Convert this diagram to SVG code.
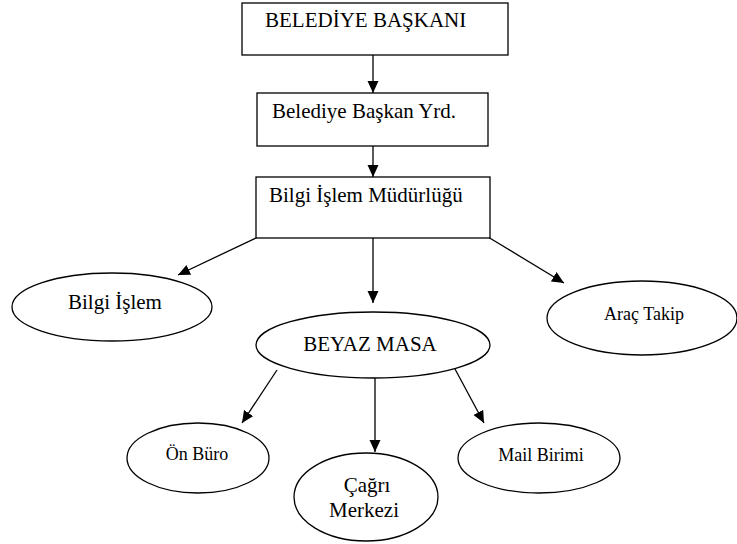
<svg xmlns="http://www.w3.org/2000/svg" width="737" height="544" viewBox="0 0 737 544">
<defs>
<style>
.box{fill:#fff;stroke:#000;stroke-width:1.3}
.ell{fill:#fff;stroke:#000;stroke-width:1.3}
text{font-family:'Liberation Serif','Times New Roman',serif;fill:#000}
.big{font-size:21px}
.small{font-size:18px}
.ln{stroke:#000;stroke-width:1.3;fill:none;marker-end:url(#ah)}
</style>
<marker id="ah" markerUnits="userSpaceOnUse" markerWidth="14" markerHeight="12" refX="12" refY="5.5" orient="auto">
<path d="M0,0 L12,5.5 L0,11 Z" fill="#000"/>
</marker>
</defs>
<rect width="737" height="544" fill="#fff"/>
<g id="connectors">
<line class="ln" x1="373" y1="55" x2="373" y2="93"/>
<line class="ln" x1="373" y1="128" x2="373" y2="177"/>
<line class="ln" x1="373" y1="238" x2="373" y2="303"/>
<line class="ln" x1="258" y1="237" x2="178" y2="275"/>
<line class="ln" x1="488" y1="237" x2="564" y2="283"/>
<line class="ln" x1="277" y1="370" x2="242" y2="423"/>
<line class="ln" x1="375" y1="378" x2="375" y2="452"/>
<line class="ln" x1="455" y1="369" x2="484" y2="423"/>
</g>
<g id="n1">
<rect class="box" x="242" y="3" width="266" height="52"/>
<text class="big" x="265" y="27">BELEDİYE BAŞKANI</text>
</g>
<g id="n2">
<rect class="box" x="257" y="93" width="231" height="53"/>
<text class="big" x="272" y="118">Belediye Başkan Yrd.</text>
</g>
<g id="n3">
<rect class="box" x="256" y="177" width="234" height="61"/>
<text class="big" x="269" y="202">Bilgi İşlem Müdürlüğü</text>
</g>
<g id="n4">
<ellipse class="ell" cx="112" cy="307" rx="100" ry="34"/>
<text class="big" x="115" y="309" text-anchor="middle">Bilgi İşlem</text>
</g>
<g id="n5">
<ellipse class="ell" cx="373" cy="345" rx="117" ry="33"/>
<text class="big" x="370" y="351" text-anchor="middle">BEYAZ MASA</text>
</g>
<g id="n6">
<ellipse class="ell" cx="642" cy="318" rx="95" ry="37"/>
<text class="small" x="644" y="320" text-anchor="middle">Araç Takip</text>
</g>
<g id="n7">
<ellipse class="ell" cx="198" cy="458" rx="71" ry="35"/>
<text class="small" x="197" y="460" text-anchor="middle">Ön Büro</text>
</g>
<g id="n8">
<ellipse class="ell" cx="366" cy="497" rx="72" ry="44"/>
<text class="big" x="367" y="492" text-anchor="middle">Çağrı</text>
<text class="big" x="364" y="517" text-anchor="middle">Merkezi</text>
</g>
<g id="n9">
<ellipse class="ell" cx="539" cy="458" rx="81" ry="35"/>
<text class="small" x="541" y="461" text-anchor="middle">Mail Birimi</text>
</g>
</svg>
